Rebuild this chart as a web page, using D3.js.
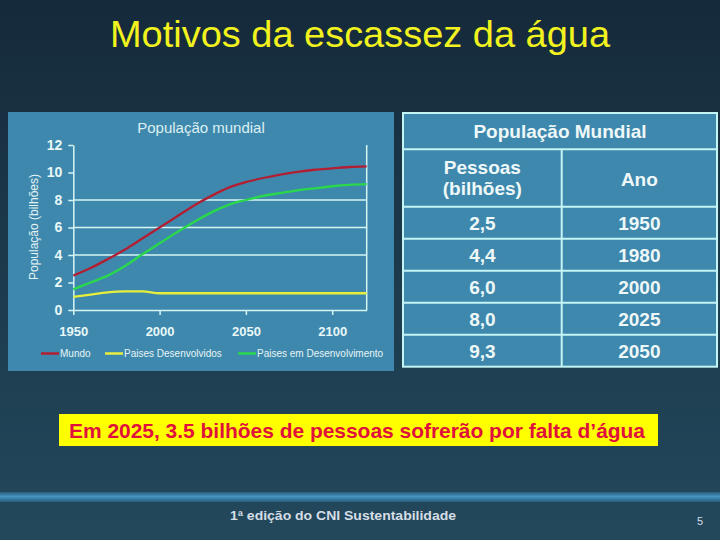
<!DOCTYPE html>
<html><head><meta charset="utf-8">
<script src="https://cdn.jsdelivr.net/npm/d3@7"></script>
<style>html,body{margin:0;padding:0;background:#172d3d;}svg{display:block;}</style>
</head><body>
<svg id="c" width="720" height="540"></svg>
<script>
// ---- data ----
const years = [1950,1960,1970,1980,1990,2000,2010,2020,2030,2040,2050,2060,2070,2080,2090,2100,2110,2120];
const mundo = [2.5,3.05,3.7,4.4,5.2,6.0,6.8,7.6,8.3,8.9,9.3,9.6,9.85,10.05,10.2,10.3,10.4,10.45];
const desenvolvidos = [0.95,1.12,1.28,1.35,1.35,1.22,1.22,1.22,1.22,1.22,1.22,1.22,1.22,1.22,1.22,1.22,1.22,1.22];
const emDesenvolvimento = [1.5,2.0,2.5,3.2,4.05,4.85,5.65,6.4,7.1,7.65,8.0,8.3,8.5,8.7,8.85,9.0,9.1,9.15];
const seriesNames = ["Mundo","Paises Desenvolvidos","Paises em Desenvolvimento"];
const yTicks = [0,2,4,6,8,10,12];
const xTicks = [1950,2000,2050,2100];
const gridValues = [4,6,8];
const tabelaPessoas = [2.5,4.4,6.0,8.0,9.3];
const tabelaAnos = [1950,1980,2000,2025,2050];

const svg = d3.select("#c");
const defs = svg.append("defs");
const bg = defs.append("linearGradient").attr("id","bg").attr("x1",0).attr("y1",0).attr("x2",0).attr("y2",1);
bg.append("stop").attr("offset","0%").attr("stop-color","#152a3a");
bg.append("stop").attr("offset","50%").attr("stop-color","#1c3a4c");
bg.append("stop").attr("offset","100%").attr("stop-color","#23485c");
const band = defs.append("linearGradient").attr("id","band").attr("x1",0).attr("y1",0).attr("x2",0).attr("y2",1);
band.append("stop").attr("offset","0%").attr("stop-color","#2a5c7a");
band.append("stop").attr("offset","45%").attr("stop-color","#4394c2");
band.append("stop").attr("offset","100%").attr("stop-color","#2a5c7a");

svg.append("rect").attr("width",720).attr("height",540).attr("fill","url(#bg)");

// title
svg.append("text").attr("x",360).attr("y",47).attr("text-anchor","middle")
  .attr("font-family","Liberation Sans, Arial, sans-serif").attr("font-size",36)
  .attr("textLength",500).attr("lengthAdjust","spacingAndGlyphs")
  .attr("fill","#f2f21e").text("Motivos da escassez da água");

// ---- chart panel ----
const panelColor = "#3f88ad";
svg.append("rect").attr("x",8).attr("y",112).attr("width",386).attr("height",259).attr("fill",panelColor);
svg.append("text").attr("x",201).attr("y",133).attr("text-anchor","middle")
  .attr("font-family","Liberation Sans, Arial, sans-serif").attr("font-size",15)
  .attr("fill","#dcf0f2").text("População mundial");

const x = d3.scaleLinear().domain([1950,2120]).range([73.3,366.7]);
const y = d3.scaleLinear().domain([0,12]).range([310,145]);
const axisCol = "#d6f6f4";

const g = svg.append("g");
g.selectAll("line.grid").data(gridValues).join("line").attr("class","grid")
  .attr("x1",x(1950)).attr("x2",x(2120)).attr("y1",d=>y(d)).attr("y2",d=>y(d))
  .attr("stroke",axisCol).attr("stroke-width",1.5);
// right border line
g.append("line").attr("x1",x(2120)).attr("x2",x(2120)).attr("y1",y(12)).attr("y2",y(0))
  .attr("stroke",axisCol).attr("stroke-width",1.5);

const yAxis = g.append("g").attr("transform",`translate(${x(1950)},0)`)
  .call(d3.axisLeft(y).tickValues(yTicks).tickSize(5).tickSizeOuter(0).tickPadding(6));
const xAxis = g.append("g").attr("transform",`translate(0,${y(0)})`)
  .call(d3.axisBottom(x).tickValues(xTicks).tickSize(5).tickSizeOuter(0).tickFormat(d3.format("d")).tickPadding(12));
[yAxis,xAxis].forEach(a=>{
  a.select(".domain").attr("stroke",axisCol).attr("stroke-width",1.5);
  a.selectAll(".tick line").attr("stroke",axisCol).attr("stroke-width",1.5);
  a.selectAll("text").attr("fill","#e8f8f8").attr("font-family","Liberation Sans, Arial, sans-serif")
    .attr("font-weight","bold").attr("font-size",13);
});
yAxis.selectAll("text").attr("font-size",14);

svg.append("text").attr("transform","translate(38,227) rotate(-90)").attr("text-anchor","middle")
  .attr("font-family","Liberation Sans, Arial, sans-serif").attr("font-size",12)
  .attr("fill","#e4f4f4").text("População (bilhões)");

const colors = ["#b21f32","#e8ee3c","#2ad84c"];
const seriesData = [mundo,desenvolvidos,emDesenvolvimento];
const line = d3.line().x((d,i)=>x(years[i])).y(d=>y(d)).curve(d3.curveMonotoneX);
seriesData.forEach((s,k)=>{
  g.append("path").datum(s).attr("d",line).attr("fill","none")
    .attr("stroke",colors[k]).attr("stroke-width",2.3);
});

// legend
const legX = [41,105,238];
seriesNames.forEach((n,k)=>{
  svg.append("line").attr("x1",legX[k]).attr("x2",legX[k]+18).attr("y1",353.5).attr("y2",353.5)
    .attr("stroke",colors[k]).attr("stroke-width",2.5);
  svg.append("text").attr("x",legX[k]+19).attr("y",357).attr("font-family","Liberation Sans, Arial, sans-serif")
    .attr("font-size",10).attr("fill","#e6f4f4").text(n);
});

// ---- table ----
const tb = {x0:403, x1:717, xm:561.7, top:113, h1:149.3, h2:206.7, rowH:32};
const bcol = "#c4f4f4";
const t = svg.append("g");
t.append("rect").attr("x",tb.x0).attr("y",tb.top).attr("width",tb.x1-tb.x0)
  .attr("height",tb.h2+tb.rowH*tabelaAnos.length-tb.top).attr("fill",panelColor)
  .attr("stroke",bcol).attr("stroke-width",2);
const rowLines = [tb.h1,tb.h2].concat(tabelaAnos.slice(0,-1).map((d,i)=>tb.h2+tb.rowH*(i+1)));
t.selectAll("line.r").data(rowLines).join("line").attr("x1",tb.x0).attr("x2",tb.x1)
  .attr("y1",d=>d).attr("y2",d=>d).attr("stroke",bcol).attr("stroke-width",2);
t.append("line").attr("x1",tb.xm).attr("x2",tb.xm).attr("y1",tb.h1)
  .attr("y2",tb.h2+tb.rowH*tabelaAnos.length).attr("stroke",bcol).attr("stroke-width",2);
const tf = {"font-family":"Liberation Sans, Arial, sans-serif","font-size":19,"font-weight":"bold","fill":"#eef8f8","text-anchor":"middle"};
function tt(xx,yy,s){const e=t.append("text").attr("x",xx).attr("y",yy).text(s);for(const k in tf)e.attr(k,tf[k]);return e;}
const c1 = (tb.x0+tb.xm)/2, c2 = (tb.xm+tb.x1)/2;
tt((tb.x0+tb.x1)/2,138,"População Mundial");
tt(c1,174,"Pessoas");
tt(c1,195,"(bilhões)");
tt(c2,186,"Ano");
const fmt = v => d3.format(".1f")(v).replace(".",",");
tabelaPessoas.forEach((v,i)=>{
  const cy = tb.h2+tb.rowH*i+tb.rowH/2+7;
  tt(c1,cy,fmt(v));
  tt(c2,cy,String(tabelaAnos[i]));
});

// ---- highlight box ----
svg.append("rect").attr("x",59).attr("y",414).attr("width",599).attr("height",32).attr("fill","#ffff00");
svg.append("text").attr("x",69).attr("y",438).attr("font-family","Liberation Sans Narrow, Arial Narrow, Liberation Sans, sans-serif")
  .attr("font-weight","bold").attr("font-size",21).attr("fill","#e0103c")
  .attr("textLength",576).attr("lengthAdjust","spacingAndGlyphs")
  .text("Em 2025, 3.5 bilhões de pessoas sofrerão por falta d’água");

// ---- footer ----
svg.append("rect").attr("x",0).attr("y",492).attr("width",720).attr("height",10).attr("fill","url(#band)");
svg.append("text").attr("x",230).attr("y",520).attr("font-family","Liberation Sans, Arial, sans-serif")
  .attr("font-size",12).attr("font-weight","bold").attr("fill","#d6dee6")
  .attr("textLength",226).attr("lengthAdjust","spacingAndGlyphs").text("1ª edição do CNI Sustentabilidade");
svg.append("text").attr("x",700).attr("y",525).attr("text-anchor","middle").attr("font-family","Liberation Sans, Arial, sans-serif")
  .attr("font-size",11).attr("fill","#d6dee6").text("5");
</script>
</body></html>
